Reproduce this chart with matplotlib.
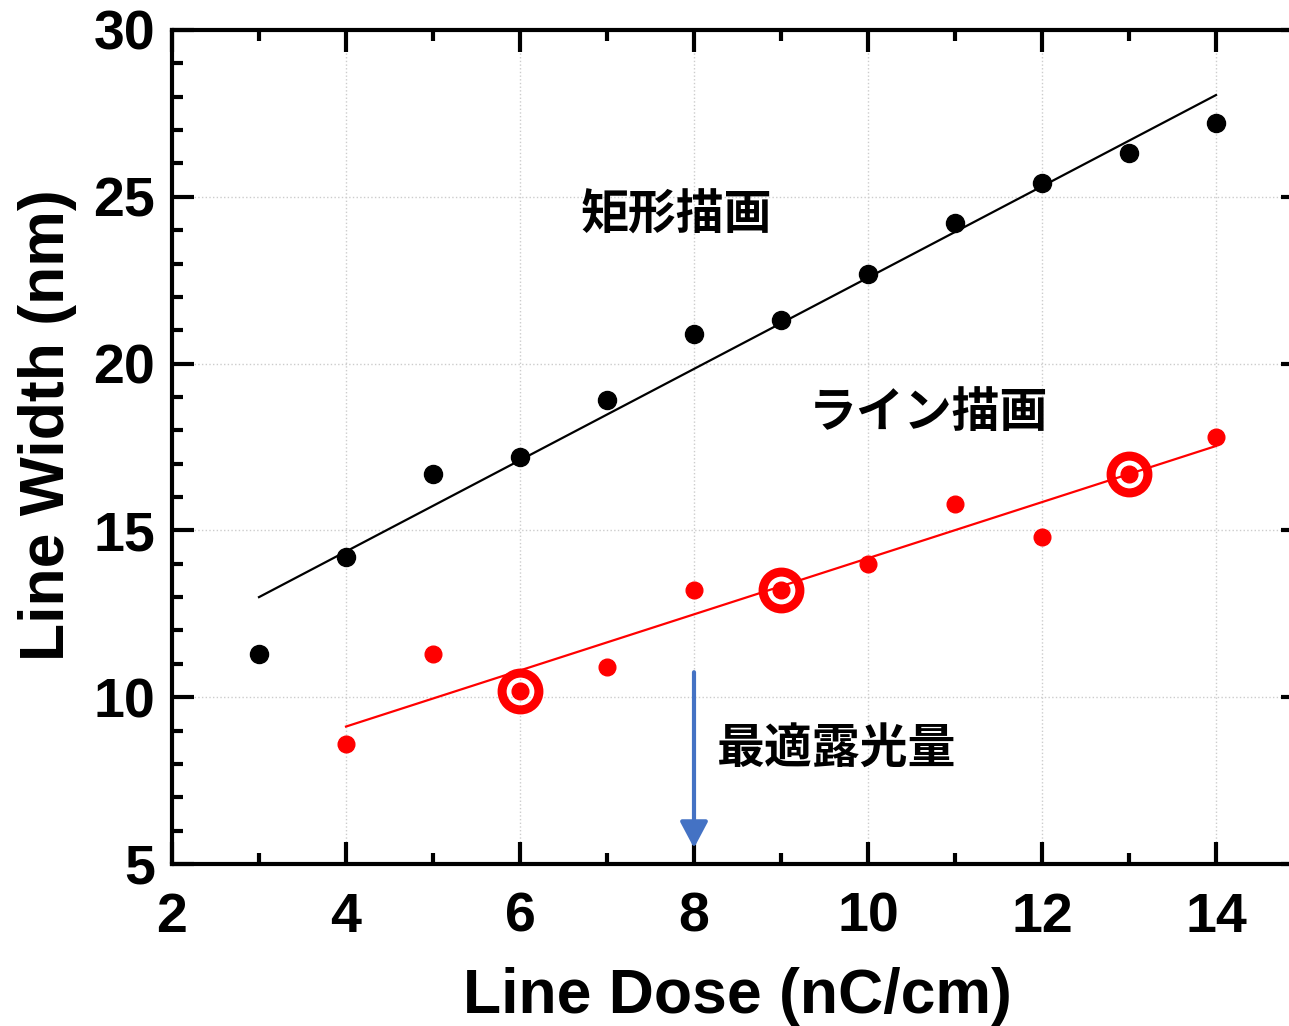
import matplotlib
matplotlib.use("Agg")
import matplotlib.pyplot as plt
from matplotlib.ticker import MultipleLocator
from matplotlib import font_manager

names = {f.name for f in font_manager.fontManager.ttflist}
NARROW = 'Liberation Sans Narrow' if 'Liberation Sans Narrow' in names else 'Liberation Sans'
print(NARROW)

plt.rcParams['font.family'] = ['Liberation Sans', 'Noto Sans CJK JP', 'DejaVu Sans']
plt.rcParams['font.weight'] = 'bold'

# data
dose = [3, 4, 5, 6, 7, 8, 9, 10, 11, 12, 13, 14]
width_rect = [11.3, 14.2, 16.7, 17.2, 18.9, 20.9, 21.3, 22.7, 24.2, 25.4, 26.3, 27.2]
dose_line = [4, 5, 6, 7, 8, 9, 10, 11, 12, 13, 14]
width_line = [8.6, 11.3, 10.2, 10.9, 13.2, 13.2, 14.0, 15.8, 14.8, 16.7, 17.8]
fit_rect_x = [3, 14]
fit_rect_y = [13.0, 28.05]
fit_line_x = [4, 14]
fit_line_y = [9.12, 17.53]
circled_x = [6, 9, 13]
circled_y = [10.2, 13.2, 16.7]
arrow_x = 8
arrow_y_start = 10.75
arrow_y_end = 5.48
label_rect = "矩形描画"
label_line = "ライン描画"
label_opt = "最適露光量"

W, H = 1289, 1026
fig = plt.figure(figsize=(W / 100, H / 100), dpi=100)
ax = fig.add_axes([172 / W, (H - 864) / H, (1303 - 172) / W, (864 - 30) / H])

ax.plot(dose, width_rect, 'o', color='black', ms=13, zorder=3)
ax.plot(fit_rect_x, fit_rect_y, '-', color='black', lw=1.6, zorder=2)
ax.plot(dose_line, width_line, 'o', color='#ff0000', ms=12, zorder=3)
ax.plot(fit_line_x, fit_line_y, '-', color='#ff0000', lw=1.6, zorder=2)
ax.plot(circled_x, circled_y, 'o', mfc='none', mec='#ff0000', mew=6.5, ms=26.5, zorder=4)

ax.annotate('', xy=(arrow_x, arrow_y_end), xytext=(arrow_x, arrow_y_start),
            arrowprops=dict(arrowstyle='-|>,head_length=1.6,head_width=0.85',
                            color='#4472C4', lw=3, shrinkA=0, shrinkB=0),
            zorder=5)

jp = ['Noto Sans CJK JP', 'DejaVu Sans']
ax.text(7.79, 24.45, label_rect, fontsize=34.5, fontweight='bold', ha='center', va='center', family=jp)
ax.text(10.70, 18.52, label_line, fontsize=34.5, fontweight='bold', ha='center', va='center', family=jp)
ax.text(9.64, 8.48, label_opt, fontsize=34.5, fontweight='bold', ha='center', va='center', family=jp)

ax.set_xlim(2, 15)
ax.set_ylim(5, 30)
ax.xaxis.set_major_locator(MultipleLocator(2))
ax.xaxis.set_minor_locator(MultipleLocator(1))
ax.yaxis.set_major_locator(MultipleLocator(5))
ax.yaxis.set_minor_locator(MultipleLocator(1))
ax.set_xticks([2, 4, 6, 8, 10, 12, 14])

ax.tick_params(which='both', direction='in', top=True, right=True, width=3)
ax.tick_params(which='major', length=16)
ax.tick_params(which='minor', length=8)
ax.tick_params(axis='x', which='major', pad=20)
ax.tick_params(axis='y', which='major', pad=12)
for lab in ax.get_xticklabels() + ax.get_yticklabels():
    lab.set_fontweight('bold')
    lab.set_family(NARROW)
    lab.set_fontsize(40)
for s in ax.spines.values():
    s.set_linewidth(3)

ax.grid(True, which='major', linestyle=':', color='#cccccc', lw=1)
ax.set_axisbelow(True)

ax.set_xlabel('Line Dose (nC/cm)', fontsize=45, fontweight='bold')
ax.set_ylabel('Line Width (nm)', fontsize=45, fontweight='bold')
ax.xaxis.set_label_coords(0.5, (864 - 997) / 834)
ax.xaxis.label.set_va('center')
ax.yaxis.set_label_coords((48 - 172) / 1131, (864 - 425) / 834)
ax.yaxis.label.set_va('center')

fig.savefig('out.png', dpi=100)
